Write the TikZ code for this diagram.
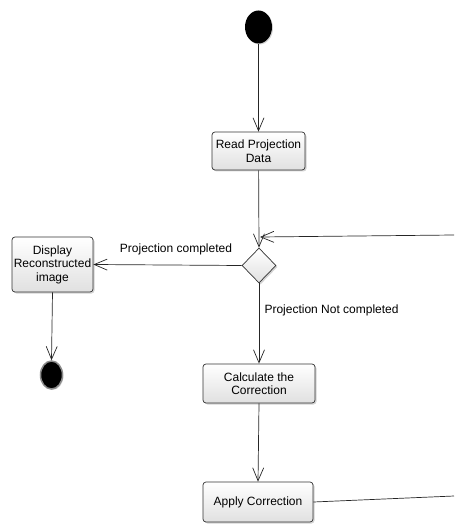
\documentclass[tikz,border=0pt]{standalone}
\usepackage{fontspec}
\setmainfont{Liberation Sans}
\usetikzlibrary{arrows.meta,shapes.geometric,shadows}
\begin{document}
\begin{tikzpicture}[x=1pt,y=-1pt,
  font=\fontsize{12}{13.5}\selectfont,
  act/.style={draw=black!80, line width=0.7pt, rounded corners=3pt,
    top color=white, bottom color=black!12, align=center, inner sep=1pt,
    drop shadow={opacity=0.35, shadow xshift=1.5pt, shadow yshift=-1.5pt}},
  dec/.style={draw=black!80, line width=0.7pt, diamond, aspect=1,
    minimum width=34pt, minimum height=35pt, inner sep=0pt,
    top color=white, bottom color=black!12,
    drop shadow={opacity=0.35, shadow xshift=1.5pt, shadow yshift=-1.5pt}},
  flow/.style={draw=black!85, line width=0.7pt,
    -{Straight Barb[length=13pt,width=11pt,line width=0.7pt]}},
  plain/.style={draw=black!85, line width=0.7pt}
]
\useasboundingbox (0,0) rectangle (454,526);

\node[ellipse, fill=black, minimum width=27pt, minimum height=33pt, inner sep=0pt,
  drop shadow={opacity=0.35, shadow xshift=1pt, shadow yshift=-1pt}] (start) at (258.5,27) {};

\node[act, minimum width=93pt, minimum height=38pt] (read) at (258.5,151) {Read Projection\\Data};

\node[dec] (dec) at (259,265.5) {};

\node[act, minimum width=81pt, minimum height=55pt] (disp) at (52.5,264.5) {Display\\Reconstructed\\image};

\node[ellipse, fill=black, draw=black!45, line width=1.5pt, minimum width=22pt, minimum height=28pt,
  inner sep=0pt, drop shadow={opacity=0.3, shadow xshift=1pt, shadow yshift=-1pt}] (end) at (51.5,375) {};

\node[act, minimum width=112pt, minimum height=39pt] (calc) at (259,383.5) {Calculate the\\Correction};

\node[act, minimum width=110pt, minimum height=40pt] (apply) at (258,502) {Apply Correction};

\coordinate (loopin) at (454,235);
\coordinate (looptip) at (260,237);
\coordinate (loopout) at (454,496);

\draw[flow] (start) -- (read);
\draw[flow] (read) -- (dec.north);
\draw[flow] (loopin) -- (looptip);
\draw[flow] (dec.west) -- (disp.east);
\node (lc) at (176,249) {Projection completed};
\draw[flow] (disp.south) -- (end.north);
\draw[flow] (dec.south) -- (calc.north);
\node[anchor=west] (lnc) at (261,310) {Projection Not completed};
\draw[flow] (calc.south) -- (apply.north);
\draw[plain] (apply.east) -- (loopout);
\end{tikzpicture}
\end{document}
